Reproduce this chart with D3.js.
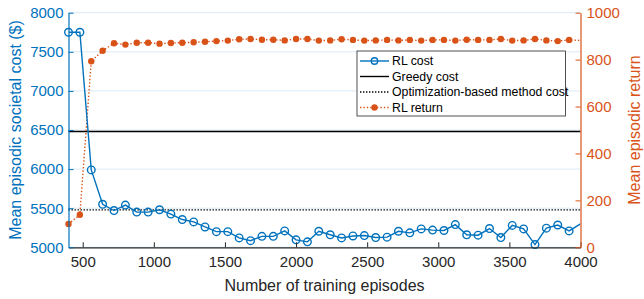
<!DOCTYPE html>
<html>
<head>
<meta charset="utf-8">
<script src="https://cdn.jsdelivr.net/npm/d3@7/dist/d3.min.js"></script>
<style>
  html, body { margin: 0; padding: 0; background: #fff; }
  svg { display: block; font-family: "Liberation Sans", Arial, sans-serif; }
</style>
</head>
<body>
<div id="chart"></div>
<script>
// training episodes (x)
const episodes = [400, 480, 560, 640, 720, 800, 880, 960, 1040, 1120,
  1200, 1280, 1360, 1440, 1520, 1600, 1680, 1760, 1840, 1920,
  2000, 2080, 2160, 2240, 2320, 2400, 2480, 2560, 2640, 2720,
  2800, 2880, 2960, 3040, 3120, 3200, 3280, 3360, 3440, 3520,
  3600, 3680, 3760, 3840, 3920, 4000];

// left axis: mean episodic societal cost ($)
const rlCost = [7750, 7750, 5990, 5550, 5470, 5540, 5450, 5450, 5480, 5425,
  5355, 5325, 5260, 5200, 5200, 5120, 5085, 5140, 5140, 5210,
  5095, 5070, 5205, 5160, 5120, 5145, 5150, 5125, 5130, 5205,
  5185, 5235, 5220, 5215, 5290, 5160, 5155, 5240, 5125, 5280,
  5235, 5035, 5245, 5285, 5210, 5300];
const greedyCost = 6480;
const optCost = 5478;

// right axis: mean episodic return
const rlReturn = [99, 139, 793, 838, 870, 864, 872, 872, 868, 871,
  872, 874, 876, 879, 881, 887, 888, 885, 885, 882,
  888, 888, 881, 882, 887, 884, 881, 882, 884, 882,
  884, 881, 884, 884, 881, 885, 884, 884, 888, 881,
  882, 888, 882, 879, 884, 882];

const xTicks = [500, 1000, 1500, 2000, 2500, 3000, 3500, 4000];
const yLeftTicks = [5000, 5500, 6000, 6500, 7000, 7500, 8000];
const yRightTicks = [0, 200, 400, 600, 800, 1000];
const legendLabels = ['RL cost', 'Greedy cost', 'Optimization-based method cost', 'RL return'];

const W = 644, H = 299;
const m = { left: 68.5, right: 63.5, top: 12.7, bottom: 51.7 };
const blue = '#0072BD', orange = '#D95319', dark = '#262626';
const fmt = d3.format('d');

const svg = d3.select('#chart').append('svg').attr('width', W).attr('height', H);

const x = d3.scaleLinear().domain([400, 4000]).range([m.left, W - m.right]);
const yL = d3.scaleLinear().domain([5000, 8000]).range([H - m.bottom, m.top]);
const yR = d3.scaleLinear().domain([0, 1000]).range([H - m.bottom, m.top]);

svg.append('defs').append('clipPath').attr('id', 'clip')
  .append('rect').attr('x', m.left).attr('y', m.top)
  .attr('width', W - m.left - m.right).attr('height', H - m.top - m.bottom);

// grid lines (left axis ticks)
svg.append('g').selectAll('line').data(yLeftTicks).enter().append('line')
  .attr('x1', m.left).attr('x2', W - m.right)
  .attr('y1', d => yL(d)).attr('y2', d => yL(d))
  .attr('stroke', blue).attr('stroke-opacity', 0.15).attr('stroke-width', 1);

// reference lines
svg.append('line')
  .attr('x1', m.left).attr('x2', W - m.right)
  .attr('y1', yL(greedyCost)).attr('y2', yL(greedyCost))
  .attr('stroke', '#000').attr('stroke-width', 1.4);
svg.append('line')
  .attr('x1', m.left).attr('x2', W - m.right)
  .attr('y1', yL(optCost)).attr('y2', yL(optCost))
  .attr('stroke', '#000').attr('stroke-width', 1.4).attr('stroke-dasharray', '1.4,1.6');

const costData = episodes.map((e, i) => ({ x: e, y: rlCost[i] }));
const retData = episodes.map((e, i) => ({ x: e, y: rlReturn[i] }));

// RL return (right axis)
svg.append('path').datum(retData)
  .attr('clip-path', 'url(#clip)')
  .attr('fill', 'none').attr('stroke', orange).attr('stroke-width', 1.4)
  .attr('stroke-dasharray', '1.4,2')
  .attr('d', d3.line().x(d => x(d.x)).y(d => yR(d.y)));
svg.append('g').selectAll('circle').data(retData.filter(d => d.x < 4000)).enter().append('circle')
  .attr('cx', d => x(d.x)).attr('cy', d => yR(d.y)).attr('r', 3.2)
  .attr('fill', orange);

// RL cost (left axis)
svg.append('path').datum(costData)
  .attr('clip-path', 'url(#clip)')
  .attr('fill', 'none').attr('stroke', blue).attr('stroke-width', 1.4)
  .attr('d', d3.line().x(d => x(d.x)).y(d => yL(d.y)));
svg.append('g').selectAll('circle').data(costData.filter(d => d.x < 4000)).enter().append('circle')
  .attr('cx', d => x(d.x)).attr('cy', d => yL(d.y)).attr('r', 3.8)
  .attr('fill', 'none').attr('stroke', blue).attr('stroke-width', 1.4);

// axes
function styleAxis(g, color) {
  g.selectAll('.domain').attr('stroke', color).attr('stroke-width', 1.2);
  g.selectAll('.tick line').attr('stroke', color).attr('stroke-width', 1);
  g.selectAll('.tick text').attr('fill', color).style('font-size', '15px')
    .style('font-family', '"Liberation Sans", Arial, sans-serif');
}

const gx = svg.append('g').attr('transform', `translate(0,${H - m.bottom})`)
  .call(d3.axisBottom(x).tickValues(xTicks).tickFormat(fmt).tickSizeInner(-5).tickSizeOuter(0).tickPadding(9));
styleAxis(gx, dark);

const gl = svg.append('g').attr('transform', `translate(${m.left},0)`)
  .call(d3.axisLeft(yL).tickValues(yLeftTicks).tickFormat(fmt).tickSizeInner(-5).tickSizeOuter(0).tickPadding(5));
styleAxis(gl, blue);

const gr = svg.append('g').attr('transform', `translate(${W - m.right},0)`)
  .call(d3.axisRight(yR).tickValues(yRightTicks).tickFormat(fmt).tickSizeInner(-5).tickSizeOuter(0).tickPadding(6));
styleAxis(gr, orange);

// axis titles
svg.append('text').attr('x', (m.left + W - m.right) / 2).attr('y', 291)
  .attr('text-anchor', 'middle').attr('fill', dark).style('font-size', '16px')
  .text('Number of training episodes');
svg.append('text').attr('transform', `translate(21,${(m.top + H - m.bottom) / 2}) rotate(-90)`)
  .attr('text-anchor', 'middle').attr('fill', blue).style('font-size', '16px')
  .text('Mean episodic societal cost ($)');
svg.append('text').attr('transform', `translate(640,${(m.top + H - m.bottom) / 2}) rotate(-90)`)
  .attr('text-anchor', 'middle').attr('fill', orange).style('font-size', '16px')
  .text('Mean episodic return');

// legend
const lg = svg.append('g').attr('transform', 'translate(357,51)');
lg.append('rect').attr('width', 208.5).attr('height', 65)
  .attr('fill', '#fff').attr('stroke', dark).attr('stroke-width', 0.8);
const rowY = [10, 25.5, 41, 56.5];
legendLabels.forEach((label, i) => {
  const yy = rowY[i];
  const ln = lg.append('line').attr('x1', 3).attr('x2', 32).attr('y1', yy).attr('y2', yy)
    .attr('stroke-width', 1.4);
  if (i === 0) ln.attr('stroke', blue);
  if (i === 1) ln.attr('stroke', '#000');
  if (i === 2) ln.attr('stroke', '#000').attr('stroke-dasharray', '1.4,1.6');
  if (i === 3) ln.attr('stroke', orange).attr('stroke-dasharray', '1.4,2');
  if (i === 0) lg.append('circle').attr('cx', 17.5).attr('cy', yy).attr('r', 3.2)
    .attr('fill', 'none').attr('stroke', blue).attr('stroke-width', 1.4);
  if (i === 3) lg.append('circle').attr('cx', 17.5).attr('cy', yy).attr('r', 3.2).attr('fill', orange);
  lg.append('text').attr('x', 35).attr('y', yy).attr('dy', '0.35em')
    .attr('fill', '#000').style('font-size', '12.3px').text(label);
});
</script>
</body>
</html>
